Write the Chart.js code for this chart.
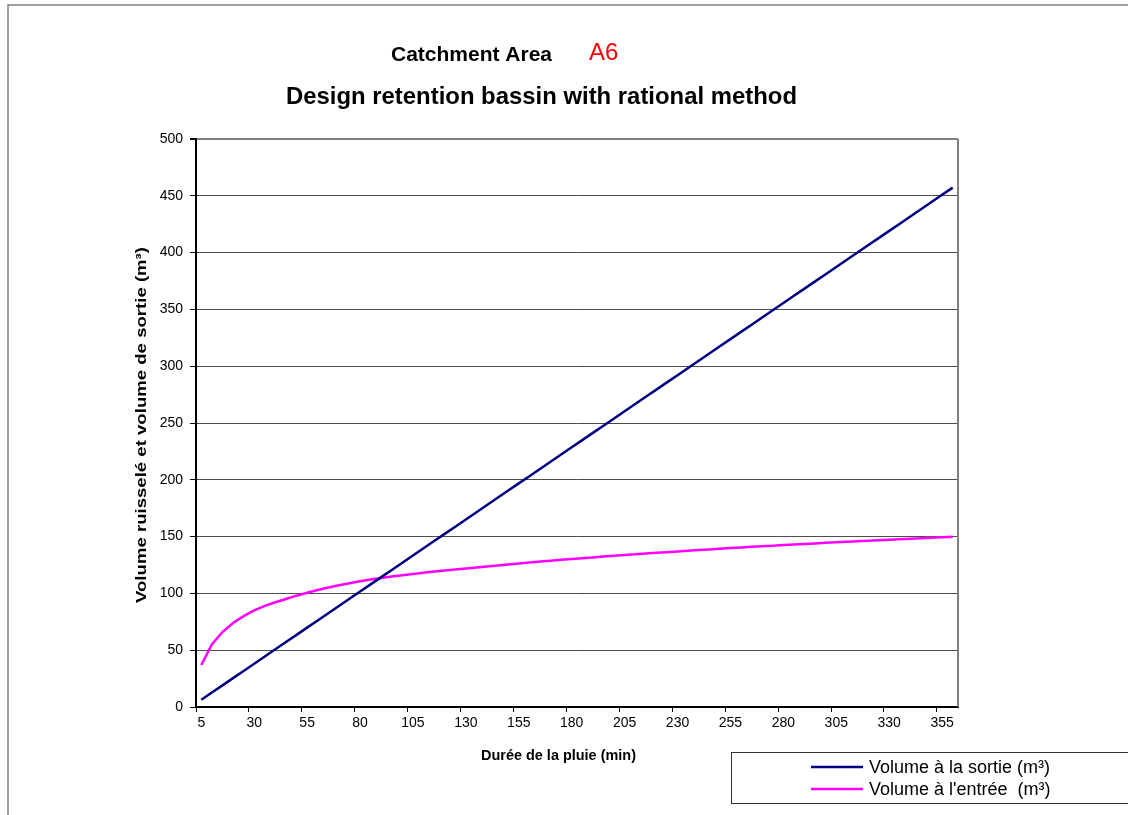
<!DOCTYPE html>
<html>
<head>
<meta charset="utf-8">
<title>Design retention bassin with rational method</title>
<script src="https://cdn.jsdelivr.net/npm/chart.js@4.4.1/dist/chart.umd.min.js"></script>
<style>
    html, body { margin: 0; padding: 0; background: #fff; overflow: hidden; }
    #wrap { position: relative; width: 1128px; height: 815px; }
</style>
</head>
<body>
<div id="wrap"><canvas id="basinChart" width="1128" height="815"></canvas></div>
<script>
// Rain duration (min) - category axis
const durations = [5, 10, 15, 20, 25, 30, 35, 40, 45, 50, 55, 60, 65, 70, 75, 80, 85, 90,
    95, 100, 105, 110, 115, 120, 125, 130, 135, 140, 145, 150, 155, 160, 165, 170, 175, 180,
    185, 190, 195, 200, 205, 210, 215, 220, 225, 230, 235, 240, 245, 250, 255, 260, 265, 270,
    275, 280, 285, 290, 295, 300, 305, 310, 315, 320, 325, 330, 335, 340, 345, 350, 355, 360];

// Volume à la sortie (m³)
const volumeOut = [6.35, 12.7, 19.05, 25.4, 31.75, 38.1, 44.45, 50.8, 57.15, 63.5, 69.85, 76.2,
    82.55, 88.9, 95.25, 101.6, 107.95, 114.3, 120.65, 127, 133.35, 139.7, 146.05, 152.4,
    158.75, 165.1, 171.45, 177.8, 184.15, 190.5, 196.85, 203.2, 209.55, 215.9, 222.25, 228.6,
    234.95, 241.3, 247.65, 254, 260.35, 266.7, 273.05, 279.4, 285.75, 292.1, 298.45, 304.8,
    311.15, 317.5, 323.85, 330.2, 336.55, 342.9, 349.25, 355.6, 361.95, 368.3, 374.65, 381,
    387.35, 393.7, 400.05, 406.4, 412.75, 419.1, 425.45, 431.8, 438.15, 444.5, 450.85, 457.2];

// Volume à l'entrée (m³)
const volumeIn = [37, 55, 66, 74, 80, 85, 89, 92.2, 95.1, 98, 100.5, 103, 105.2, 107.2, 109,
    110.7, 112.2, 113.5, 114.8, 116, 117.1, 118.2, 119.2, 120.1, 121, 121.9, 122.8, 123.7,
    124.6, 125.5, 126.4, 127.2, 128, 128.8, 129.6, 130.3, 131, 131.7, 132.4, 133.1, 133.8,
    134.5, 135.1, 135.7, 136.3, 136.9, 137.5, 138.1, 138.7, 139.3, 139.9, 140.5, 141, 141.5,
    142, 142.5, 143, 143.5, 144, 144.5, 145, 145.4, 145.9, 146.3, 146.8, 147.2, 147.7, 148.1,
    148.6, 149, 149.5, 149.9];

const yMin = 0;
const yMax = 500;
const yStep = 50;
const xLabelEvery = 5;

const FONT = "'Liberation Sans', Arial, Helvetica, sans-serif";
const COLORS = {
    out: '#000080',
    in: '#FF00FF',
    grid: '#4d4d4d',
    frame: '#808080',
    red: '#FF0000'
};

// draw text squeezed/stretched to a given width
function fitText(ctx, text, x, y, width, font, color, align) {
    ctx.save();
    ctx.font = font;
    ctx.fillStyle = color;
    ctx.textBaseline = 'middle';
    const w = ctx.measureText(text).width;
    const sx = width / w;
    ctx.translate(x, y);
    ctx.scale(sx, 1);
    ctx.textAlign = align || 'center';
    ctx.fillText(text, 0, 0);
    ctx.restore();
}

const decorPlugin = {
    id: 'decor',
    afterDraw(chart) {
        const ctx = chart.ctx;
        const area = chart.chartArea;

        ctx.save();
        // outer frame (top and left visible)
        ctx.strokeStyle = COLORS.frame;
        ctx.lineWidth = 1.5;
        ctx.beginPath();
        ctx.moveTo(8, 815);
        ctx.lineTo(8, 5);
        ctx.lineTo(1128, 5);
        ctx.stroke();

        // plot right border
        ctx.lineWidth = 2;
        ctx.beginPath();
        ctx.moveTo(area.right, area.top);
        ctx.lineTo(area.right, area.bottom);
        ctx.stroke();
        ctx.restore();

        // titles
        ctx.save();
        ctx.textBaseline = 'alphabetic';
        ctx.textAlign = 'left';
        ctx.fillStyle = '#000';
        ctx.font = 'bold 21px ' + FONT;
        ctx.fillText('Catchment Area', 391, 61);
        ctx.fillStyle = COLORS.red;
        ctx.font = '24px ' + FONT;
        ctx.fillText('A6', 589, 60);
        ctx.restore();

        fitText(ctx, 'Design retention bassin with rational method', 541.5, 97, 511,
            'bold 24px ' + FONT, '#000');

        // axis titles
        fitText(ctx, 'Durée de la pluie (min)', 558.5, 756, 155, 'bold 14px ' + FONT, '#000');

        ctx.save();
        ctx.translate(142, 425);
        ctx.rotate(-Math.PI / 2);
        fitText(ctx, 'Volume ruisselé et volume de sortie (m³)', 0, 0, 356, 'bold 14px ' + FONT, '#000');
        ctx.restore();

        // legend box
        ctx.save();
        ctx.strokeStyle = '#333';
        ctx.lineWidth = 1;
        ctx.strokeRect(731.5, 752.5, 420, 51);
        ctx.font = '18px ' + FONT;
        ctx.textBaseline = 'middle';
        ctx.textAlign = 'left';
        const rows = [767, 789];
        chart.data.datasets.forEach((ds, i) => {
            ctx.strokeStyle = ds.borderColor;
            ctx.lineWidth = 2.5;
            ctx.beginPath();
            ctx.moveTo(811, rows[i]);
            ctx.lineTo(863, rows[i]);
            ctx.stroke();
            ctx.fillStyle = '#000';
            ctx.fillText(ds.label, 869, rows[i] + 1);
        });
        ctx.restore();
    }
};

const ctx = document.getElementById('basinChart').getContext('2d');

new Chart(ctx, {
    type: 'line',
    data: {
        labels: durations,
        datasets: [{
            label: 'Volume à la sortie (m³)',
            data: volumeOut,
            borderColor: COLORS.out,
            borderWidth: 2.5,
            pointRadius: 0,
            tension: 0,
            fill: false
        }, {
            label: "Volume à l'entrée  (m³)",
            data: volumeIn,
            borderColor: COLORS.in,
            borderWidth: 2.5,
            pointRadius: 0,
            tension: 0,
            fill: false
        }]
    },
    options: {
        responsive: false,
        animation: false,
        devicePixelRatio: 1,
        layout: {
            padding: { left: 100, top: 139, right: 170, bottom: 40 }
        },
        plugins: {
            legend: { display: false },
            tooltip: { enabled: false }
        },
        scales: {
            x: {
                type: 'category',
                offset: true,
                afterFit: function(scale) { scale.height = 68; },
                grid: {
                    offset: true,
                    drawOnChartArea: false,
                    drawTicks: true,
                    tickLength: 5,
                    tickColor: function(c) {
                        return c.index % xLabelEvery === 0 ? '#000' : 'rgba(0,0,0,0)';
                    },
                    color: 'rgba(0,0,0,0)'
                },
                border: { display: true, color: '#000', width: 2 },
                ticks: {
                    autoSkip: false,
                    maxRotation: 0,
                    minRotation: 0,
                    padding: 3,
                    color: '#000',
                    font: { family: FONT, size: 14 },
                    callback: function(value, index) {
                        return index % xLabelEvery === 0 ? this.getLabelForValue(value) : '';
                    }
                }
            },
            y: {
                min: yMin,
                max: yMax,
                afterFit: function(scale) { scale.width = 96; },
                grid: {
                    color: function(c) {
                        return c.tick && c.tick.value === yMax ? COLORS.frame : COLORS.grid;
                    },
                    lineWidth: function(c) {
                        return c.tick && c.tick.value === yMax ? 2 : 1;
                    },
                    tickColor: '#000',
                    tickLength: 6
                },
                border: { display: true, color: '#000', width: 2 },
                ticks: {
                    stepSize: yStep,
                    padding: 7,
                    color: '#000',
                    font: { family: FONT, size: 14 }
                }
            }
        }
    },
    plugins: [decorPlugin]
});
</script>
</body>
</html>
